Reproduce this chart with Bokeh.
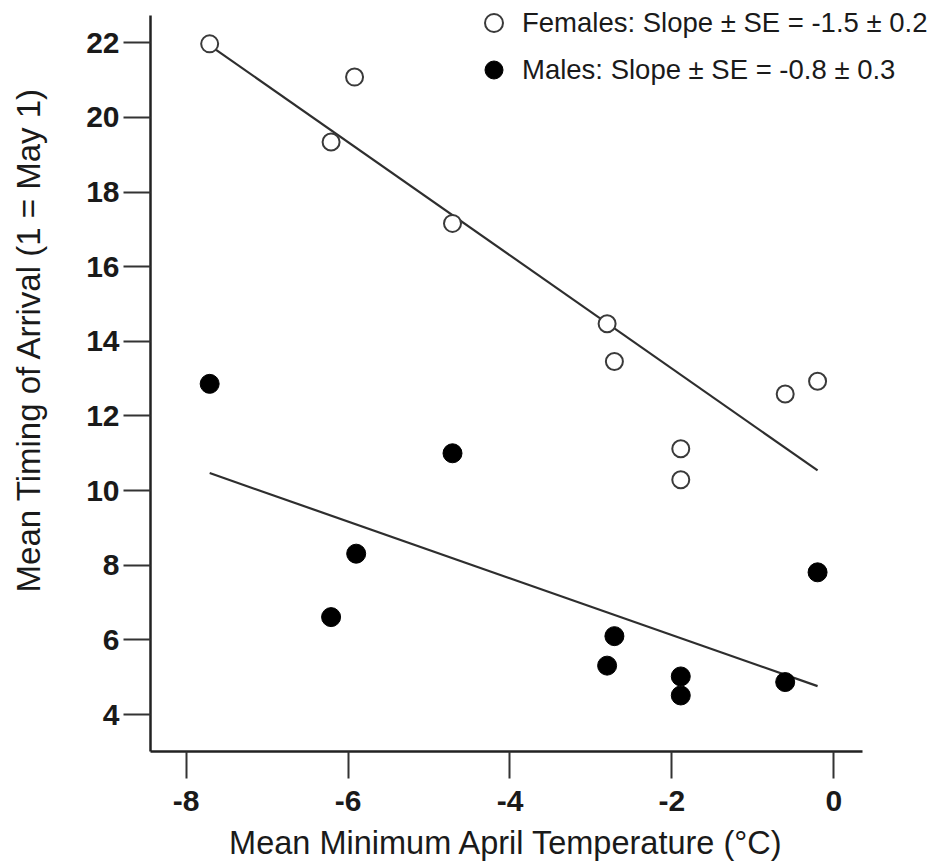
import math
from bokeh.plotting import figure
from bokeh.models import Range1d, FixedTicker, Label, Legend, LegendItem
from bokeh.embed import file_html
from bokeh.resources import INLINE

# Data
temp = [-7.71, -6.21, -5.92, -4.71, -2.80, -2.71, -1.89, -1.89, -0.60, -0.20]
females = [21.97, 19.34, 21.08, 17.16, 14.47, 13.46, 11.12, 10.29, 12.59, 12.93]
temp_m = [-7.71, -6.21, -5.90, -4.71, -2.80, -2.71, -1.89, -1.89, -0.60, -0.20]
males = [12.86, 6.61, 8.31, 11.00, 5.31, 6.10, 5.02, 4.51, 4.87, 7.81]

fit_x = [-7.71, -0.20]
fit_females = [21.93, 10.54]
fit_males = [10.47, 4.76]

x_ticks = [-8, -6, -4, -2, 0]
x_tick_labels = ["-8", "-6", "-4", "-2", "0"]
y_ticks = [4, 6, 8, 10, 12, 14, 16, 18, 20, 22]
x_axis_extent = (-8.441, 0.355)
y_axis_extent = (3.009, 22.73)

legend_labels = ["Females: Slope \u00b1 SE = -1.5 \u00b1 0.2",
                 "Males: Slope \u00b1 SE = -0.8 \u00b1 0.3"]
x_title = "Mean Minimum April Temperature (\u00b0C)"
y_title = "Mean Timing of Arrival (1 = May 1)"

FONT = "Liberation Sans"
INK = "#1a1a1a"

p = figure(width=935, height=863, output_backend="svg", toolbar_location=None,
           x_range=Range1d(-10.294, 1.2568), y_range=Range1d(0.008, 23.132),
           min_border=0)
p.outline_line_color = None
p.xgrid.visible = False
p.ygrid.visible = False
p.background_fill_color = "white"
p.border_fill_color = "white"

xa, ya = p.xaxis[0], p.yaxis[0]
xa.fixed_location = y_axis_extent[0]
ya.fixed_location = x_axis_extent[0]
xa.bounds = x_axis_extent
ya.bounds = y_axis_extent

for ax, ticks in ((xa, x_ticks), (ya, y_ticks)):
    ax.ticker = FixedTicker(ticks=ticks)
    ax.minor_tick_line_color = None
    ax.major_tick_in = 0
    ax.major_tick_out = 27
    ax.major_tick_line_width = 2
    ax.major_tick_line_color = "#333333"
    ax.axis_line_width = 2.5
    ax.axis_line_color = "#222222"
    ax.major_label_text_font = FONT
    ax.major_label_text_font_size = "30px"
    ax.major_label_text_font_style = "bold"
    ax.major_label_text_color = INK

xa.major_label_overrides = {t: lab for t, lab in zip(x_ticks, x_tick_labels)}
xa.major_label_standoff = 12
ya.major_label_standoff = 4

# regression lines
p.line(fit_x, fit_females, line_color="#2e2e2e", line_width=2.2)
p.line(fit_x, fit_males, line_color="#2e2e2e", line_width=2.2)

r_f = p.scatter(temp, females, marker="circle", size=17, fill_color="white",
                line_color="#3a3a3a", line_width=2)
r_m = p.scatter(temp_m, males, marker="circle", size=19, fill_color="black",
                line_color="black", line_width=1)

legend = Legend(items=[LegendItem(label=legend_labels[0], renderers=[r_f]),
                       LegendItem(label=legend_labels[1], renderers=[r_m])],
                location=(471, 771), orientation="vertical",
                glyph_width=45, glyph_height=45, label_standoff=6,
                spacing=2, padding=0, margin=0,
                border_line_color=None, background_fill_alpha=0,
                label_text_font=FONT, label_text_font_size="27.5px",
                label_text_color=INK)
p.add_layout(legend)

p.add_layout(Label(x=506, y=21, x_units="screen", y_units="screen",
                   text=x_title, text_align="center", text_baseline="middle",
                   text_font=FONT, text_font_size="32.5px", text_color=INK))
p.add_layout(Label(x=28, y=524, x_units="screen", y_units="screen",
                   text=y_title, angle=math.pi / 2, text_align="center",
                   text_baseline="middle",
                   text_font=FONT, text_font_size="33px", text_color=INK))

open("out.html", "w").write(file_html(p, INLINE))
